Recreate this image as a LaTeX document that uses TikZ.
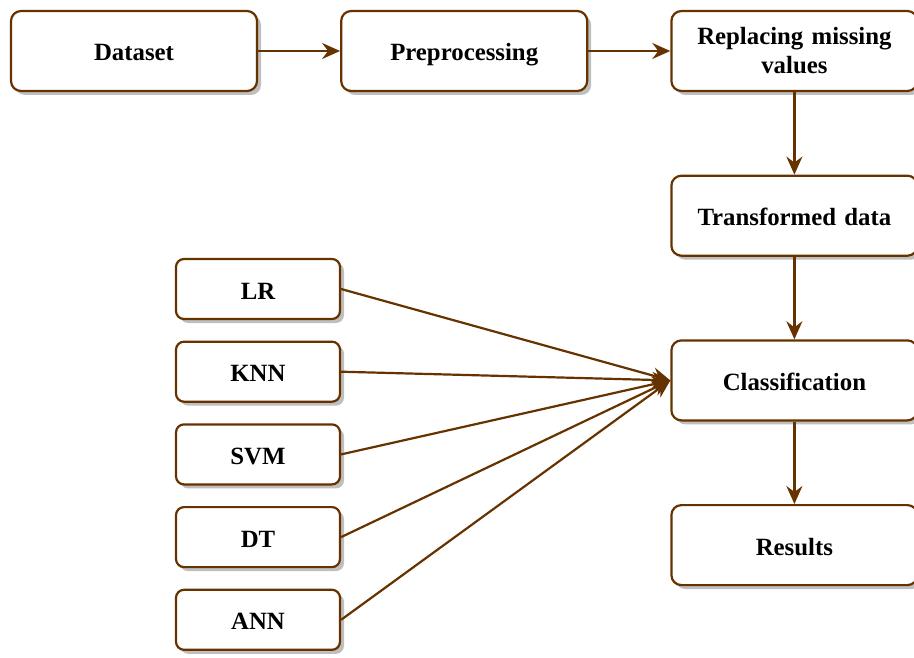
\documentclass[tikz,border=0pt]{standalone}
\usepackage{fontspec}
\setmainfont{Liberation Serif}
\usetikzlibrary{positioning,shadows,arrows.meta}
\definecolor{flowbrown}{RGB}{102,51,0}

\tikzset{
  flowbox/.style={rectangle, rounded corners=10pt, draw=flowbrown, line width=2.2pt, fill=white,
    minimum width=246pt, minimum height=80pt, text width=230pt, align=center,
    font=\fontsize{24.8}{29}\selectfont\bfseries,
    drop shadow={shadow xshift=4pt, shadow yshift=-4pt, fill=black!25, opacity=1}},
  stagebox/.style={flowbox, text height=24pt, text depth=4pt},
  modelbox/.style={stagebox, rounded corners=8pt, minimum width=164pt, minimum height=60pt, text width=150pt},
  flow/.style={draw=flowbrown, line width=2.2pt, -{Stealth[length=18pt, width=16pt, inset=6pt]}}
}

\begin{document}
\begin{tikzpicture}[x=1pt, y=-1pt]
    \useasboundingbox (0,0) rectangle (914,658);
    % Pipeline
    \node (dataset) [stagebox] at (134,51) {Dataset};
    \node (prep) [stagebox, right=82pt of dataset] {Preprocessing};
    \node (replace) [flowbox, right=82pt of prep] {Replacing missing\\values};
    \node (transform) [stagebox, below=82.5pt of replace] {Transformed data};
    \node (classify) [stagebox, below=82.5pt of transform] {Classification};
    \node (results) [stagebox, below=82.5pt of classify] {Results};

    % Models
    \node (lr) [modelbox] at (258,289) {LR};
    \node (knn) [modelbox, below=20.5pt of lr] {KNN};
    \node (svm) [modelbox, below=20.5pt of knn] {SVM};
    \node (dt) [modelbox, below=20.5pt of svm] {DT};
    \node (ann) [modelbox, below=20.5pt of dt] {ANN};

    % Connections
    \draw [flow] (dataset) -- (prep);
    \draw [flow] (prep) -- (replace);
    \draw [flow] (replace) -- (transform);
    \draw [flow] (transform) -- (classify);
    \draw [flow] (classify) -- (results);
    \foreach \m in {lr,knn,svm,dt,ann}
        \draw [flow] (\m.east) -- (classify.west);
\end{tikzpicture}
\end{document}
